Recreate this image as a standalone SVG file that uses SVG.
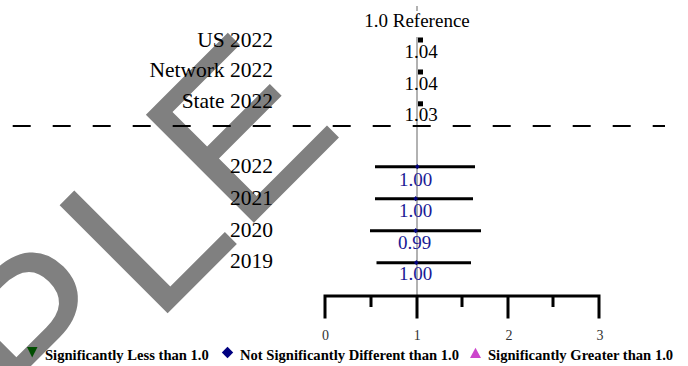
<svg xmlns="http://www.w3.org/2000/svg" width="688" height="366" viewBox="0 0 688 366">
<style>
.lab{font-family:"Liberation Serif","Times New Roman",serif;font-size:21.5px;fill:#000;text-anchor:end}
.val{font-family:"Liberation Serif","Times New Roman",serif;font-size:19px;text-anchor:middle}
.blk{fill:#000}
.blu{fill:#1a1a96}
.tick{font-family:"Liberation Serif","Times New Roman",serif;font-size:14px;fill:#333;text-anchor:middle}
.leg{font-family:"Liberation Serif","Times New Roman",serif;font-size:14.6px;font-weight:bold;fill:#000}
.bar{stroke:#000;stroke-width:3;fill:none}
.ax{stroke:#000;stroke-width:3;fill:none}
.ref{stroke:#999;stroke-width:1.5;fill:none}
.wm{font-family:"Liberation Sans",Arial,sans-serif;font-size:222px;fill:#808080}
</style>
<defs>
<path id="dia" d="M0,-2.6 L2.2,0 L0,2.6 L-2.2,0 Z" fill="#000080"/>
</defs>
<rect width="688" height="366" fill="#fff"/>
<g id="watermark">
<text class="wm" transform="rotate(-45)" x="-280 -121 4" y="340 340 337">PLE</text>
</g>
<g id="connectors">
<line class="ref" x1="417" y1="6" x2="417" y2="11"/>
<line class="ref" x1="417" y1="37" x2="417" y2="296"/>
<line x1="12.7" y1="126" x2="665" y2="126" stroke="#000" stroke-width="2" stroke-dasharray="18 22"/>
<line class="bar" x1="375" y1="166.7" x2="475" y2="166.7"/>
<line class="bar" x1="375" y1="198.7" x2="473" y2="198.7"/>
<line class="bar" x1="370" y1="230.7" x2="481" y2="230.7"/>
<line class="bar" x1="376.5" y1="262.7" x2="471" y2="262.7"/>
</g>
<g id="axis">
<path class="ax" d="M325,318.5 V296 H599 V318.5 M417,296 V318.5 M508,296 V318.5 M371,296 V307 M462,296 V307 M553,296 V307"/>
<text class="tick" x="325.5" y="340">0</text>
<text class="tick" x="417.3" y="340">1</text>
<text class="tick" x="509" y="340">2</text>
<text class="tick" x="600" y="340">3</text>
</g>
<g id="reference">
<text class="val blk" x="417" y="27">1.0 Reference</text>
</g>
<g id="us2022">
<text class="lab" x="273" y="46.7">US 2022</text>
<rect x="418" y="37.5" width="5" height="5" fill="#000"/>
<text class="val blk" x="421" y="58">1.04</text>
</g>
<g id="network2022">
<text class="lab" x="273" y="77">Network 2022</text>
<rect x="418" y="69.5" width="5" height="5" fill="#000"/>
<text class="val blk" x="421" y="90">1.04</text>
</g>
<g id="state2022">
<text class="lab" x="273" y="108">State 2022</text>
<rect x="418" y="101.3" width="5" height="5" fill="#000"/>
<text class="val blk" x="421" y="121">1.03</text>
</g>
<g id="y2022">
<text class="lab" x="273" y="173">2022</text>
<use href="#dia" x="417.3" y="166.7"/>
<text class="val blu" x="415.5" y="186">1.00</text>
</g>
<g id="y2021">
<text class="lab" x="273" y="205">2021</text>
<use href="#dia" x="415.7" y="198.7"/>
<text class="val blu" x="415.5" y="217">1.00</text>
</g>
<g id="y2020">
<text class="lab" x="273" y="237">2020</text>
<use href="#dia" x="415.7" y="230.7"/>
<text class="val blu" x="414.5" y="249">0.99</text>
</g>
<g id="y2019">
<text class="lab" x="273" y="268">2019</text>
<use href="#dia" x="416.3" y="262.7"/>
<text class="val blu" x="415.5" y="280">1.00</text>
</g>
<g id="legend">
<polygon points="27,347 37.5,347 32.2,357.5" fill="#004d00"/>
<text class="leg" x="45" y="360">Significantly Less than 1.0</text>
<polygon points="227.5,346.8 233.2,352.5 227.5,358.2 221.8,352.5" fill="#000080"/>
<text class="leg" x="240" y="360">Not Significantly Different than 1.0</text>
<polygon points="475.5,347.8 481,358 470,358" fill="#cc44cc"/>
<text class="leg" x="488" y="360">Significantly Greater than 1.0</text>
</g>
</svg>
